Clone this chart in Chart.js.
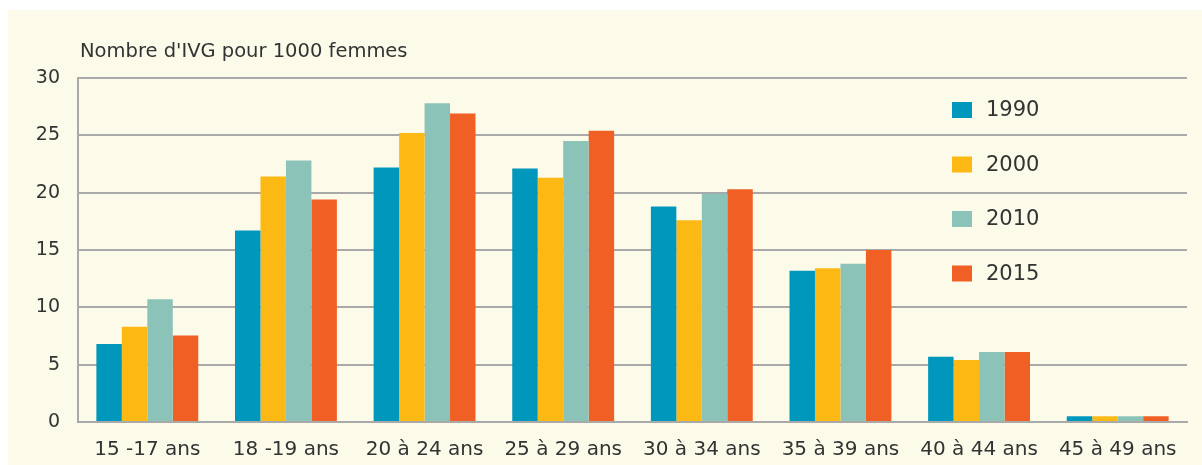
<!DOCTYPE html>
<html>
<head>
<meta charset="utf-8">
<script src="https://cdn.jsdelivr.net/npm/chart.js@4.4.1/dist/chart.umd.min.js"></script>
<style>
  html, body { margin: 0; padding: 0; background: #ffffff; }
  #wrap { width: 1202px; height: 465px; position: relative; }
</style>
</head>
<body>
<div id="wrap"><canvas id="c" width="1202" height="465"></canvas></div>
<script>
const categories = ["15 -17 ans", "18 -19 ans", "20 à 24 ans", "25 à 29 ans", "30 à 34 ans", "35 à 39 ans", "40 à 44 ans", "45 à 49 ans"];
const seriesNames = ["1990", "2000", "2010", "2015"];
const values1990 = [6.8, 16.7, 22.2, 22.1, 18.8, 13.2, 5.7, 0.5];
const values2000 = [8.3, 21.4, 25.2, 21.3, 17.6, 13.4, 5.4, 0.5];
const values2010 = [10.7, 22.8, 27.8, 24.5, 19.9, 13.8, 6.1, 0.5];
const values2015 = [7.55, 19.4, 26.9, 25.4, 20.3, 15.0, 6.1, 0.5];
const yTicks = [0, 5, 10, 15, 20, 25, 30];
const titleText = "Nombre d'IVG pour 1000 femmes";

const colors = ["#0097bc", "#fdb913", "#8cc3b9", "#f05f24"];
const FONT = "'DejaVu Sans', 'Liberation Sans', Arial, sans-serif";
const TEXT = "#333333";
const GRID = "#a9a9a9";

const bgPlugin = {
  id: 'bg',
  beforeDraw(chart) {
    const ctx = chart.ctx;
    ctx.save();
    ctx.fillStyle = '#ffffff';
    ctx.fillRect(0, 0, chart.width, chart.height);
    ctx.fillStyle = '#fcfbea';
    ctx.fillRect(8, 10, chart.width - 8, chart.height - 10);
    ctx.restore();
  }
};

const titlePlugin = {
  id: 'customTitle',
  afterDraw(chart) {
    const ctx = chart.ctx;
    ctx.save();
    ctx.font = "19.5px " + FONT;
    ctx.fillStyle = TEXT;
    ctx.textBaseline = 'alphabetic';
    ctx.textAlign = 'left';
    ctx.fillText(titleText, 80, 57);
    ctx.restore();
  }
};

const legendPlugin = {
  id: 'customLegend',
  afterDraw(chart) {
    const ctx = chart.ctx;
    ctx.save();
    ctx.font = "21px " + FONT;
    ctx.textBaseline = 'middle';
    ctx.textAlign = 'left';
    chart.data.datasets.forEach((ds, i) => {
      const cy = 110 + i * 54.5;
      ctx.fillStyle = ds.backgroundColor;
      ctx.fillRect(952, cy - 8, 20, 16);
      ctx.fillStyle = TEXT;
      ctx.fillText(ds.label, 986, cy + 1);
    });
    ctx.restore();
  }
};

const allValues = [values1990, values2000, values2010, values2015];

new Chart(document.getElementById('c'), {
  type: 'bar',
  data: {
    labels: categories,
    datasets: seriesNames.map((name, i) => ({
      label: name,
      data: allValues[i],
      backgroundColor: colors[i],
      borderWidth: 0,
      categoryPercentage: 0.735,
      barPercentage: 1.0
    }))
  },
  options: {
    responsive: false,
    animation: false,
    devicePixelRatio: 1,
    layout: { padding: { top: 78, right: 15, bottom: 0, left: 0 } },
    plugins: {
      legend: { display: false },
      tooltip: { enabled: false },
      title: { display: false }
    },
    scales: {
      x: {
        grid: { display: false, drawTicks: false },
        border: { display: true, color: GRID, width: 2 },
        ticks: {
          color: TEXT,
          font: { family: FONT, size: 20 },
          padding: 16,
          maxRotation: 0,
          autoSkip: false
        },
        afterFit(scale) { scale.height = 43; }
      },
      y: {
        min: 0,
        max: 30,
        afterBuildTicks(scale) { scale.ticks = yTicks.map(v => ({ value: v })); },
        grid: { color: GRID, lineWidth: 2, drawTicks: false },
        border: { display: true, color: GRID, width: 2 },
        ticks: {
          color: TEXT,
          font: { family: FONT, size: 19 },
          padding: 18
        },
        afterFit(scale) { scale.width = 78; }
      }
    }
  },
  plugins: [bgPlugin, titlePlugin, legendPlugin]
});
</script>
</body>
</html>
